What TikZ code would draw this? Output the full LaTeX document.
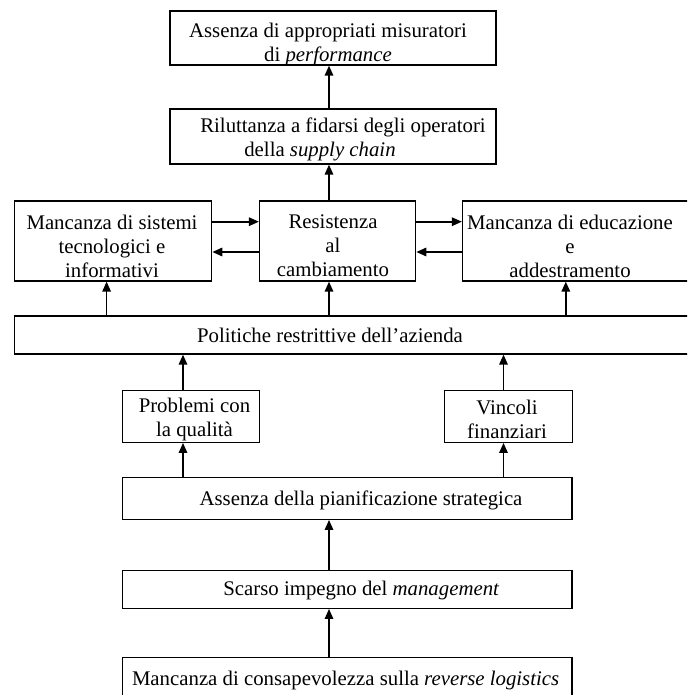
\documentclass[tikz,border=0pt]{standalone}
\usepackage{fontspec}
\setmainfont{Liberation Serif}
\usetikzlibrary{arrows.meta}

\begin{document}
\begin{tikzpicture}[
    x=1pt, y=-1pt,
    pbox/.style={draw, line width=1.3pt, inner sep=0pt},
    ptext/.style={inner sep=0pt, align=center,
        font=\fontsize{20.8}{24}\selectfont},
    arr/.style={line width=1.6pt, -{Triangle[length=10pt,width=8.5pt]}},
]
\useasboundingbox (0,0) rectangle (687,695);
\clip (0,0) rectangle (687,695);

% column and row guides for the connectors
\coordinate (colL) at (106.6,0);
\coordinate (colM) at (329,0);
\coordinate (colR) at (565.8,0);
\coordinate (colP) at (183,0);
\coordinate (colV) at (503.5,0);
\coordinate (rowHi) at (0,221.7);
\coordinate (rowLo) at (0,252);

% boxes
\node[pbox, minimum width=326pt, minimum height=54pt] (A) at (333,38) {};
\node[pbox, minimum width=326pt, minimum height=55pt] (B) at (333,136.5) {};
\node[pbox, minimum width=197.2pt, minimum height=80pt] (C1) at (113.1,241) {};
\node[pbox, minimum width=156.2pt, minimum height=80pt] (C2) at (337.6,241) {};
\node[pbox, minimum width=257.5pt, minimum height=80pt] (C3) at (591.25,241) {};
\node[pbox, minimum width=705.5pt, minimum height=38pt] (D) at (367.25,335) {};
\node[pbox, minimum width=137.2pt, minimum height=51.8pt] (E1) at (191,416.4) {};
\node[pbox, minimum width=128.1pt, minimum height=51.8pt] (E2) at (508.35,416.4) {};
\node[pbox, minimum width=449.6pt, minimum height=41.8pt] (F) at (347.2,498.4) {};
\node[pbox, minimum width=449.6pt, minimum height=37.6pt] (G) at (347.2,589.5) {};
\node[pbox, minimum width=449.6pt, minimum height=72.3pt] (H) at (347.2,693.85) {};

% labels
\node[ptext] (At) at (328,44.5) {Assenza di appropriati misuratori\\di \textit{performance}};
\node[ptext] (Bt) at (320,139) {\hspace*{46pt}Riluttanza a fidarsi degli operatori\\della \textit{supply chain}};
\node[ptext] (C1t) at (112,246) {Mancanza di sistemi\\tecnologici e\\informativi};
\node[ptext] (C2t) at (333,246) {Resistenza\\al\\cambiamento};
\node[ptext] (C3t) at (570,246) {Mancanza di educazione\\e\\addestramento};
\node[ptext, anchor=base] (Dt) at (330,342.7) {Politiche restrittive dell’azienda};
\node[ptext] (E1t) at (194.5,419) {Problemi con\\la qualità};
\node[ptext] (E2t) at (507,419) {Vincoli\\finanziari};
\node[ptext, anchor=base] (Ft) at (361,505) {Assenza della pianificazione strategica};
\node[ptext, anchor=base] (Gt) at (361.4,595.3) {Scarso impegno del \textit{management}};
\node[ptext, anchor=base] (Ht) at (345.6,685.5) {Mancanza di consapevolezza sulla \textit{reverse logistics}};

% connectors
\draw[arr] (B.north -| colM) -- (A.south -| colM);
\draw[arr] (C2.north -| colM) -- (B.south -| colM);
\draw[arr] (C1.east |- rowHi) -- (C2.west |- rowHi);
\draw[arr] (C2.west |- rowLo) -- (C1.east |- rowLo);
\draw[arr] (C2.east |- rowHi) -- (C3.west |- rowHi);
\draw[arr] (C3.west |- rowLo) -- (C2.east |- rowLo);
\draw[arr] (D.north -| colL) -- (C1.south -| colL);
\draw[arr] (D.north -| colM) -- (C2.south -| colM);
\draw[arr] (D.north -| colR) -- (C3.south -| colR);
\draw[arr] (E1.north -| colP) -- (D.south -| colP);
\draw[arr] (E2.north -| colV) -- (D.south -| colV);
\draw[arr] (F.north -| colP) -- (E1.south -| colP);
\draw[arr] (F.north -| colV) -- (E2.south -| colV);
\draw[arr] (G.north -| colM) -- (F.south -| colM);
\draw[arr] (H.north -| colM) -- (G.south -| colM);
\end{tikzpicture}
\end{document}
